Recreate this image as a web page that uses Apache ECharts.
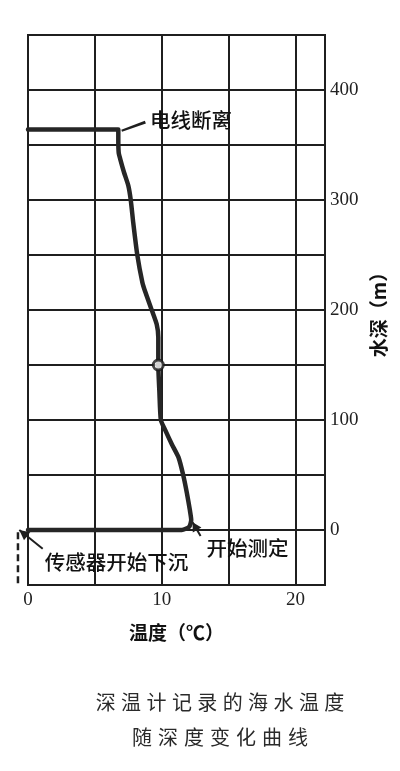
<!DOCTYPE html>
<html><head><meta charset="utf-8">
<script src="https://cdn.jsdelivr.net/npm/echarts@6/dist/echarts.min.js"></script>
<style>html,body{margin:0;padding:0;background:#fff}#c{width:400px;height:771px}</style>
</head><body><div id="c"></div>
<script>
// ---- data ----
const tempC  = [0, 11.5, 12.05, 12.2, 12.1, 11.87, 11.6, 11.25, 10.75, 10.25, 9.93, 9.82, 9.74, 9.74, 9.62, 9.25, 8.75, 8.55, 8.17, 7.87, 7.68, 7.5, 7.18, 6.9, 6.78, 6.75, 6.75, 0];
const depthM = [0, 0,    3,     9,    18,   34,    50,   66,    78,    91,    100,  126,  150,  175,  187,  200,  217,  225,  250,  279,  300,  313, 325,  337, 343,  355,  364,  364];
const markerPoint = [9.74, 150];
const xTickLabels = [0, 10, 20];
const yTickLabels = [0, 100, 200, 300, 400];
const xName = '温度（℃）';
const yName = '水深（m）';
const captionLines = ['深温计记录的海水温度', '随深度变化曲线'];
const noteWireText = '电线断离';
const noteWireLine = [[7.0, 363], [8.75, 371.5]];
const noteStartText = '开始测定';
const noteStartArrow = [[12.9, -5.5], [12.3, 7]];
const noteSinkText = '传感器开始下沉';
const noteSinkArrow = [[1.1, -17], [-0.65, 0]];
const sinkDashed = [[-0.75, -2], [-0.75, -50]];

const chart = echarts.init(document.getElementById('c'), null, {renderer: 'canvas'});
const INK = '#1f1f1f';
const serif = '"Liberation Serif", "DejaVu Serif", serif';
const cjk = '"Noto Sans CJK SC", sans-serif';

chart.setOption({
  animation: false,
  backgroundColor: '#fff',
  grid: {left: 28, right: 75, top: 35, bottom: 186, show: true, borderColor: INK, borderWidth: 2, backgroundColor: 'transparent'},
  xAxis: {
    type: 'value', min: 0, max: 22.2, interval: 5,
    axisLine: {show: false}, axisTick: {show: false},
    splitLine: {show: true, lineStyle: {color: INK, width: 2}},
    axisLabel: {color: '#222', fontFamily: serif, fontSize: 19, margin: 6, showMaxLabel: false,
      formatter: v => xTickLabels.includes(v) ? String(v) : ''},
    name: xName, nameLocation: 'middle', nameGap: 38,
    nameTextStyle: {color: '#111', fontFamily: cjk, fontSize: 19, fontWeight: 'bold'}
  },
  yAxis: {
    type: 'value', position: 'right', min: -50, max: 450, interval: 50,
    axisLine: {show: false}, axisTick: {show: false},
    splitLine: {show: true, lineStyle: {color: INK, width: 2}},
    axisLabel: {color: '#222', fontFamily: serif, fontSize: 19, margin: 5,
      formatter: v => yTickLabels.includes(v) ? String(v) : ''},
    name: yName, nameLocation: 'middle', nameGap: 40, nameRotate: 90,
    nameTextStyle: {color: '#111', fontFamily: cjk, fontSize: 19, fontWeight: 'bold'}
  },
  series: [
    {
      type: 'line', data: tempC.map((t, i) => [t, depthM[i]]),
      smooth: 0.2, symbol: 'none',
      lineStyle: {color: '#262626', width: 4.5, join: 'round', cap: 'round'}
    },
    {
      type: 'scatter', data: [markerPoint], symbol: 'circle', symbolSize: 10,
      itemStyle: {color: '#fff', borderColor: '#1a1a1a', borderWidth: 3}, z: 5
    }
  ]
});

function px(p) { return chart.convertToPixel({gridIndex: 0}, p); }
function arrowHead(tip, from, len, half) {
  const dx = tip[0] - from[0], dy = tip[1] - from[1];
  const L = Math.hypot(dx, dy), ux = dx / L, uy = dy / L;
  const bx = tip[0] - ux * len, by = tip[1] - uy * len;
  return [tip, [bx - uy * half, by + ux * half], [bx + uy * half, by - ux * half]];
}
function taper(a, b, w0, w1) {
  const dx = b[0] - a[0], dy = b[1] - a[1];
  const L = Math.hypot(dx, dy), nx = -dy / L, ny = dx / L;
  return [[a[0] + nx * w0, a[1] + ny * w0], [b[0] + nx * w1, b[1] + ny * w1], [b[0] - nx * 0.6, b[1] - ny * 0.6], [a[0] - nx * w0, a[1] - ny * w0]];
}

const g = [];
const noteFont = '500 20.5px ' + cjk;
// wire leader (tapered)
const w0 = px(noteWireLine[0]), w1 = px(noteWireLine[1]);
g.push({type: 'polygon', shape: {points: taper(w0, w1, 1, 2.2)}, style: {fill: INK}});
g.push({type: 'text', x: w1[0] + 5, y: w1[1] - 1, style: {text: noteWireText, font: noteFont, fill: '#111', textVerticalAlign: 'middle', textAlign: 'left'}});
// start arrow
const s0 = px(noteStartArrow[0]), s1 = px(noteStartArrow[1]);
g.push({type: 'line', shape: {x1: s0[0], y1: s0[1], x2: s1[0], y2: s1[1]}, style: {stroke: INK, lineWidth: 2}});
g.push({type: 'polygon', shape: {points: arrowHead(s1, s0, 9, 5)}, style: {fill: INK}});
g.push({type: 'text', x: s0[0] + 6, y: s0[1] + 12, style: {text: noteStartText, font: noteFont, fill: '#111', textVerticalAlign: 'middle', textAlign: 'left'}});
// sink arrow
const k0 = px(noteSinkArrow[0]), k1 = px(noteSinkArrow[1]);
g.push({type: 'line', shape: {x1: k0[0], y1: k0[1], x2: k1[0], y2: k1[1]}, style: {stroke: INK, lineWidth: 2}});
g.push({type: 'polygon', shape: {points: arrowHead(k1, k0, 10, 5)}, style: {fill: INK}});
g.push({type: 'text', x: k0[0] + 2, y: k0[1] + 14, style: {text: noteSinkText, font: noteFont, fill: '#111', textVerticalAlign: 'middle', textAlign: 'left'}});
// dashed sink line
const d0 = px(sinkDashed[0]), d1 = px(sinkDashed[1]);
g.push({type: 'line', shape: {x1: d0[0], y1: d0[1], x2: d1[0], y2: d1[1]}, style: {stroke: INK, lineWidth: 2.5, lineDash: [7, 4]}});
// caption, character-spaced
const capY = [702, 737], pitch = [25.4, 26];
captionLines.forEach((line, li) => {
  const n = line.length, cx = 220;
  for (let i = 0; i < n; i++) {
    g.push({type: 'text', x: cx + (i - (n - 1) / 2) * pitch[li], y: capY[li],
      style: {text: line[i], font: '20px ' + cjk, fill: '#2a2a2a', textAlign: 'center', textVerticalAlign: 'middle'}});
  }
});
chart.setOption({graphic: g});
</script></body></html>
